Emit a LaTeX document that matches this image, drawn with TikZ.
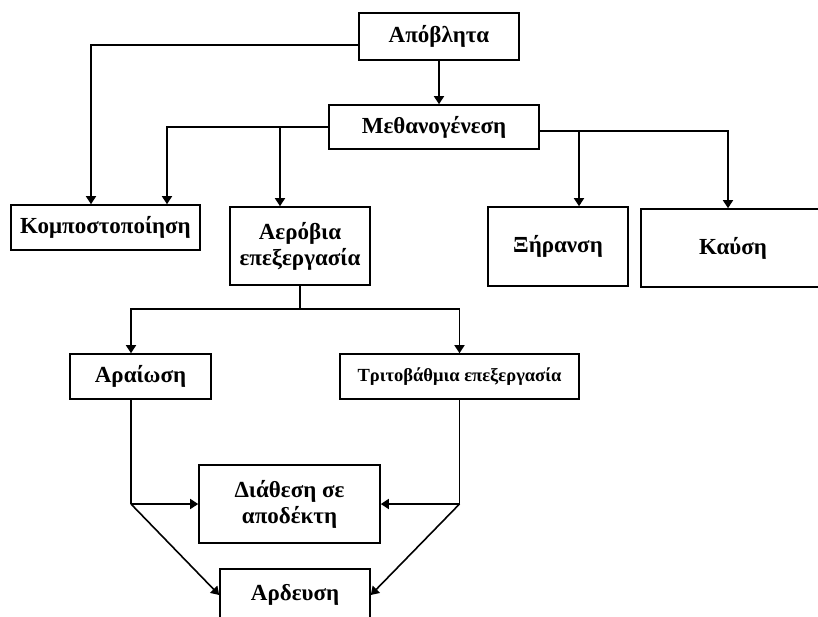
\documentclass[tikz,border=0pt]{standalone}
\usepackage{fontspec}
\setmainfont{Liberation Serif}
\usetikzlibrary{positioning}
\usetikzlibrary{arrows.meta}

\begin{document}
\begin{tikzpicture}[x=1pt,y=-1pt,line width=1.6pt,
	>={Triangle[length=8pt,width=10pt]},
	box/.style={draw,inner sep=0pt,align=center,font=\bfseries\fontsize{23}{26}\selectfont},
	smallbox/.style={box,font=\bfseries\fontsize{18.5}{22}\selectfont}]
	\useasboundingbox (0,0) rectangle (818,616);
	\clip (0,0) rectangle (818,616);
	% Boxes %
	\node [box,minimum width=160pt,minimum height=47pt] (apobl) at (439,36.5) {Απόβλητα};
	\node [box,minimum width=210pt,minimum height=44pt] (meth) at (434,127) {Μεθανογένεση};
	\node [box,minimum width=189pt,minimum height=45pt] (komp) at (105.5,227.5) {Κομποστοποίηση};
	\node [box,minimum width=140pt,minimum height=78pt] (aer) at (300,246) {Αερόβια\\επεξεργασία};
	\node [box,minimum width=140pt,minimum height=79pt] (xir) at (558,246.5) {Ξήρανση};
	\node [box,minimum width=184pt,minimum height=78pt] (kaf) at (733,248) {Καύση};
	\node [box,minimum width=141pt,minimum height=45pt] (ara) at (140.5,376.5) {Αραίωση};
	\node [smallbox,minimum width=239pt,minimum height=45pt] (tri) at (459.5,376.5) {Τριτοβάθμια επεξεργασία};
	\node [box,minimum width=181pt,minimum height=78pt] (dia) at (289.5,504) {Διάθεση σε\\αποδέκτη};
	\node [box,minimum width=150pt,minimum height=52pt] (ard) at (295,595) {Αρδευση};
	% Top Branches %
	\coordinate (methright) at ([yshift=-4pt]meth.east);
	\draw [->] ([yshift=-8.5pt]apobl.west) -| ([xshift=-14.5pt]komp.north);
	\draw [->] (apobl.south) -- (apobl.south |- meth.north);
	\draw [->] (meth.west) -| ([xshift=61.5pt]komp.north);
	\draw [->] ([xshift=-20pt]aer.north |- meth.west) -- ([xshift=-20pt]aer.north);
	\draw [->] (methright) -| ([xshift=-5pt]kaf.north);
	\draw [->] ([xshift=21pt]xir.north |- methright) -- ([xshift=21pt]xir.north);
	% Aerobic Split %
	\coordinate (aersplit) at ([yshift=-23pt]aer.south);
	\draw (aer.south) -- (aersplit);
	\draw [->] (aersplit) -| ([xshift=-9.5pt]ara.north);
	\draw [->] (aersplit) -| (tri.north);
	% Outlets %
	\coordinate (arajoin) at ([xshift=-9.5pt]ara.south |- dia.west);
	\coordinate (trijoin) at (tri.south |- dia.east);
	\draw ([xshift=-9.5pt]ara.south) -- (arajoin);
	\draw (tri.south) -- (trijoin);
	\draw [->] (arajoin) -- (dia.west);
	\draw [->] (trijoin) -- (dia.east);
	\draw [->] (arajoin) -- (ard.west);
	\draw [->] (trijoin) -- (ard.east);
\end{tikzpicture}
\end{document}
